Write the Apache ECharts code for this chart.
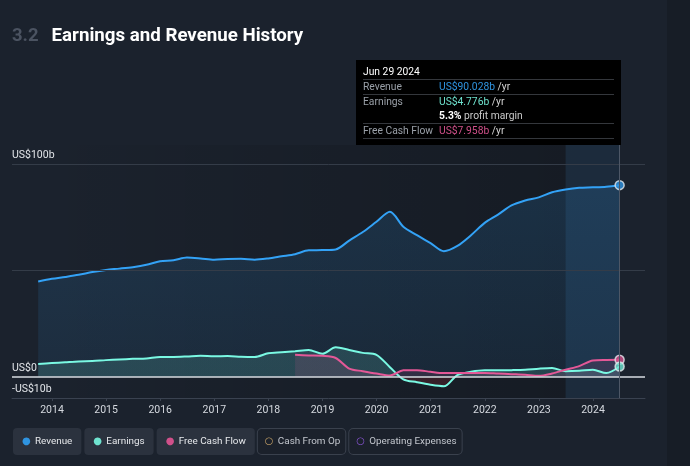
<!DOCTYPE html>
<html><head><meta charset="utf-8">
<script src="https://cdn.jsdelivr.net/npm/echarts@6/dist/echarts.min.js"></script>
<style>html,body{margin:0;padding:0;background:#1b222d;}#c{width:690px;height:466px;}</style>
</head><body><div id="c"></div>
<script>
// ---- data (US$ billions, trailing twelve months) ----
const dates = [
 '2013-09-30','2013-12-31','2014-03-31','2014-06-30','2014-09-30','2014-12-31',
 '2015-03-31','2015-06-30','2015-09-30','2015-12-31','2016-03-31','2016-06-30',
 '2016-09-30','2016-12-31','2017-03-31','2017-06-30','2017-09-30','2017-12-31',
 '2018-03-31','2018-06-30','2018-09-30','2018-12-31','2019-03-31','2019-06-30',
 '2019-09-30','2019-12-31','2020-03-31','2020-06-30','2020-09-30','2020-12-31',
 '2021-03-31','2021-06-30','2021-09-30','2021-12-31','2022-03-31','2022-06-30',
 '2022-09-30','2022-12-31','2023-03-31','2023-06-30','2023-09-30','2023-12-31',
 '2024-03-31','2024-06-29'];
const revenue = [
 44.8,46.0,46.9,47.9,49.2,50.2,50.8,51.5,52.6,54.3,54.7,56.0,
 55.6,55.0,55.3,55.4,55.0,55.6,56.6,57.6,59.4,59.5,59.8,64.0,
 68.0,72.8,77.5,70.5,66.5,62.8,59.0,61.5,66.5,72.3,76.2,80.5,
 82.8,84.3,86.7,88.0,88.8,89.0,89.3,90.028];
const earnings = [
 6.0,6.4,6.8,7.2,7.4,7.8,8.1,8.4,8.6,9.3,9.3,9.5,
 9.8,9.6,9.7,9.4,9.3,11.0,11.5,12.0,12.6,10.8,13.8,12.6,
 11.2,10.3,4.5,-1.2,-2.6,-3.8,-4.5,0.8,2.3,3.0,3.0,3.1,
 3.3,3.8,4.1,2.6,2.8,3.3,1.7,4.776];
const freeCashFlow = [
 null,null,null,null,null,null,null,null,null,null,null,null,
 null,null,null,null,null,null,null,10.3,10.0,9.8,8.8,3.8,
 2.6,1.5,0.6,3.0,3.1,2.3,1.7,1.7,1.7,1.8,1.5,1.2,
 0.9,0.4,1.5,3.3,5.0,7.6,7.9,7.958];
const yearTicks = [2014,2015,2016,2017,2018,2019,2020,2021,2022,2023,2024];
const yLabelValues = [-10, 0, 100];
const gridValues = [100, 50];
const legendNames = ['Revenue','Earnings','Free Cash Flow','Cash From Op','Operating Expenses'];

// ---- helpers ----
function toYear(d){
  const [y,m,day] = d.split('-').map(Number);
  const start = Date.UTC(y,0,1), end = Date.UTC(y+1,0,1);
  return y + (Date.UTC(y,m-1,day)-start)/(end-start);
}
const xs = dates.map(toYear);
function pairs(arr){ const out=[]; arr.forEach((v,i)=>{ if(v!==null) out.push([xs[i],v]); }); return out; }
const last = dates.length-1;
const MONTHS=['Jan','Feb','Mar','Apr','May','Jun','Jul','Aug','Sep','Oct','Nov','Dec'];
function fmtDate(d){ const [y,m,day]=d.split('-').map(Number); return MONTHS[m-1]+' '+day+' '+y; }
function fmtB(v){ return 'US$'+v.toFixed(3)+'b'; }

const C = {rev:'#2f94e0', earn:'#6fe3cf', fcf:'#d0508a', cfo:'#c3a067', opex:'#8a55d6'};
const FONT = 'Roboto';

const chart = echarts.init(document.getElementById('c'));
const option = {
  backgroundColor:'#1b222d',
  animation:false,
  textStyle:{fontFamily:FONT},
  title:{
    left:12, top:27, padding:0,
    text:'{n|3.2}{t|Earnings and Revenue History}',
    textStyle:{rich:{
      n:{color:'#4b5361',fontSize:18.5,fontFamily:FONT,padding:[0,13,0,0]},
      t:{color:'#ffffff',fontSize:18.7,fontWeight:'bold',fontFamily:FONT}
    }}
  },
  graphic:[{type:'rect',left:667,top:0,shape:{width:23,height:466},style:{fill:'#171d26'},silent:true,z:-10}],
  grid:{left:12,right:45,top:145,bottom:68,containLabel:false,outerBoundsMode:'none'},
  xAxis:{
    type:'value', min:2013.261, max:2024.961,
    axisLine:{show:true,onZero:false,lineStyle:{color:'#3a4250',width:1}},
    axisTick:{show:true,customValues:yearTicks,length:3,lineStyle:{color:'#3a4250'}},
    axisLabel:{customValues:yearTicks,formatter:v=>String(v),color:'#d5d9df',fontSize:10.5,margin:7,fontFamily:FONT},
    splitLine:{show:false}
  },
  yAxis:{
    type:'value', min:-10, max:108.9,
    axisLine:{show:false}, axisTick:{show:false}, splitLine:{show:false},
    axisLabel:{
      customValues:yLabelValues, inside:true, margin:0,
      formatter:v=> v===0?'US$0':(v<0?'-US$'+(-v)+'b':'US$'+v+'b'),
      color:'#e3e6ea', fontSize:10.5, fontFamily:FONT,
      verticalAlign:'bottom', align:'left', padding:[0,0,3,0]
    }
  },
  tooltip:{
    trigger:'axis', alwaysShowContent:true, showContent:true,
    position:[356,60], backgroundColor:'#000', borderWidth:0, borderRadius:0,
    padding:[5,7,6,7], transitionDuration:0, enterable:false,
    extraCssText:'box-shadow:none;',
    axisPointer:{type:'line',lineStyle:{color:'#4d5766',width:1,type:'solid'},label:{show:false}},
    formatter:()=>{
      const margin = (earnings[last]/revenue[last]*100).toFixed(1);
      const sep='border-bottom:1px solid #34373c;';
      const lab='display:inline-block;width:76px;color:#9aa0a8;';
      return `<div style="width:251px;font-family:Roboto;font-size:10.3px;line-height:14px;color:#d6d6d6;text-align:left">`+
      `<div style="color:#fff;${sep}">${fmtDate(dates[last])}</div>`+
      `<div style="${sep}"><span style="${lab}">Revenue</span><span style="color:${C.rev}">${fmtB(revenue[last])}</span> /yr</div>`+
      `<div><span style="${lab}">Earnings</span><span style="color:${C.earn}">${fmtB(earnings[last])}</span> /yr</div>`+
      `<div style="${sep}"><span style="${lab}"></span><b style="color:#fff">${margin}%</b> <span style="color:#c9c9c9">profit margin</span></div>`+
      `<div style="${sep}"><span style="${lab}">Free Cash Flow</span><span style="color:${C.fcf}">${fmtB(freeCashFlow[last])}</span> /yr</div>`+
      `</div>`;
    }
  },
  legend:{
    left:8, top:428, padding:0, icon:'none', itemWidth:0, itemHeight:0, itemGap:-2,
    selectedMode:false,
    formatter:name=>{
      const i=legendNames.indexOf(name);
      const glyph = i<3?'●':'○';
      return `{d${i}|${glyph}}{t|${name}}`;
    },
    textStyle:{
      fontFamily:FONT,fontSize:9.9,
      rich:{
        d0:{color:C.rev,fontSize:10,width:13,fontFamily:'DejaVu Sans'},
        d1:{color:C.earn,fontSize:10,width:13,fontFamily:'DejaVu Sans'},
        d2:{color:C.fcf,fontSize:10,width:13,fontFamily:'DejaVu Sans'},
        d3:{color:C.cfo,fontSize:10,width:13,fontFamily:'DejaVu Sans'},
        d4:{color:C.opex,fontSize:10,width:13,fontFamily:'DejaVu Sans'},
        t:{fontSize:9.9,fontFamily:FONT,lineHeight:13}
      }
    },
    data:legendNames.map((n,i)=>({name:n,textStyle: i<3 ?
      {color:'#e6e8eb',backgroundColor:'#2b323e',borderRadius:4,padding:[7,9,7,9]} :
      {color:'#c3c7ce',backgroundColor:'#1b212b',borderColor:'#3a414d',borderWidth:1,borderRadius:4,padding:[6,5,6,7]}}))
  },
  series:[
    {
      name:'Revenue', type:'line', data:pairs(revenue), smooth:0.3, symbol:'none', z:2,
      lineStyle:{color:C.rev,width:2}, itemStyle:{color:C.rev},
      areaStyle:{color:{type:'linear',x:0,y:0,x2:0,y2:1,colorStops:[{offset:0,color:'rgba(47,148,224,0.22)'},{offset:1,color:'rgba(47,148,224,0.12)'}]}},
      markArea:{silent:true,data:[
        [{xAxis:xs[0],itemStyle:{color:{type:'linear',x:0,y:0,x2:1,y2:0,colorStops:[{offset:0,color:'rgba(0,0,0,0)'},{offset:1,color:'rgba(0,0,0,0.22)'}]}}},{xAxis:xs[last]}],
        [{xAxis:xs[last-4],itemStyle:{color:'rgba(70,145,215,0.14)'}},{xAxis:xs[last]}]
      ]},
      markLine:{silent:true,symbol:'none',label:{show:false},animation:false,
        data:[
          ...gridValues.map(v=>({yAxis:v,lineStyle:{color:'#343c48',width:1,type:'solid'}})),
          {yAxis:0,lineStyle:{color:'#d8dce2',width:1.5,type:'solid'}}
        ]}
    },
    {
      name:'Earnings', type:'line', data:pairs(earnings), smooth:0.3, symbol:'none', z:3,
      lineStyle:{color:C.earn,width:2}, itemStyle:{color:C.earn},
      areaStyle:{color:{type:'linear',x:0,y:0,x2:0,y2:466,global:true,colorStops:[
        {offset:0,color:'rgba(111,227,207,0.2)'},{offset:0.809,color:'rgba(111,227,207,0.2)'},
        {offset:0.81,color:'rgba(120,35,45,0.4)'},{offset:1,color:'rgba(120,35,45,0.4)'}]}}
    },
    {
      name:'Free Cash Flow', type:'line', data:pairs(freeCashFlow), smooth:0.3, symbol:'none', z:3,
      lineStyle:{color:C.fcf,width:2}, itemStyle:{color:C.fcf},
      areaStyle:{color:'rgba(208,80,138,0.18)'}
    },
    {name:'Cash From Op', type:'line', data:[], itemStyle:{color:C.cfo}},
    {name:'Operating Expenses', type:'line', data:[], itemStyle:{color:C.opex}},
    {
      name:'end', type:'scatter', z:5, symbolSize:9, silent:true,
      data:[
        {value:[xs[last],revenue[last]],itemStyle:{color:C.rev}},
        {value:[xs[last],freeCashFlow[last]],itemStyle:{color:C.fcf}},
        {value:[xs[last],earnings[last]],itemStyle:{color:C.earn}}
      ],
      itemStyle:{borderColor:'#e3e8ee',borderWidth:1.5},
      tooltip:{show:false}
    }
  ]
};
chart.setOption(option);
chart.dispatchAction({type:'showTip',seriesIndex:0,dataIndex:last});
</script></body></html>
